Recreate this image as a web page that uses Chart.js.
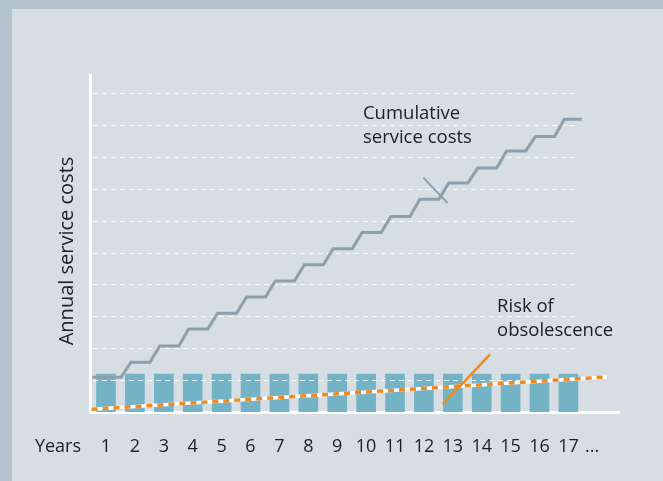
<!DOCTYPE html>
<html>
<head>
<meta charset="utf-8">
<title>Service costs</title>
<script src="https://cdn.jsdelivr.net/npm/chart.js@4.4.0/dist/chart.umd.min.js"></script>
<style>
    html, body { margin: 0; padding: 0; background: #b2c3cb; }
    #wrap { width: 663px; height: 481px; }
</style>
</head>
<body>
<div id="wrap"><canvas id="chart" width="663" height="481"></canvas></div>
<script>
// Values. y is in grid steps (one step = one dashed line).
const years = [1, 2, 3, 4, 5, 6, 7, 8, 9, 10, 11, 12, 13, 14, 15, 16, 17];
const yearTicks = [1, 2, 3, 4, 5, 6, 7, 8, 9, 10, 11, 12, 13, 14, 15, 16, 17, 17.82];
const yearLabels = ['1', '2', '3', '4', '5', '6', '7', '8', '9', '10', '11', '12', '13', '14', '15', '16', '17', '...'];
const annualCosts = [1.19, 1.19, 1.19, 1.19, 1.19, 1.19, 1.19, 1.19, 1.19, 1.19, 1.19, 1.19, 1.19, 1.19, 1.19, 1.19, 1.19];
const cumulativeCosts = [1.09, 1.56, 2.07, 2.6, 3.1, 3.61, 4.11, 4.62, 5.12, 5.63, 6.13, 6.67, 7.18, 7.65, 8.19, 8.64, 9.18];
const gridValues = [1, 2, 3, 4, 5, 6, 7, 8, 9, 10];
const obsolescenceTrend = [{x: 0.5, y: 0.085}, {x: 18.33, y: 1.1}];
const obsolescenceMarker = [{x: 12.65, y: 0.24}, {x: 14.29, y: 1.81}];
const cumulativeMarker = [{x: 11.98, y: 7.35}, {x: 12.82, y: 6.55}];

// Text notes, anchored in data units (left edge, first baseline)
const notes = [
    {lines: ['Cumulative', 'service costs'], x: 9.89, y: 9.19},
    {lines: ['Risk of', 'obsolescence'], x: 14.53, y: 3.15}
];

const FONT = '"Open Sans", "DejaVu Sans", sans-serif';
const INK = '#1e1e1e';
const ORANGE = '#f08a1e';
const STEEL = '#8c9fad';
const BAR_WIDTH = 19;

// Flat part of each year's step, then a slanted rise to the next year
function stepPoints(levels) {
    const pts = [];
    levels.forEach((v, i) => {
        const yr = years[i];
        pts.push({x: i === 0 ? yr - 0.48 : yr - 0.14, y: v});
        pts.push({x: i === levels.length - 1 ? yr + 0.46 : yr + 0.52, y: v});
    });
    return pts;
}

// Panel background with the darker frame on the left and top
const backdrop = {
    id: 'backdrop',
    beforeDraw(chart) {
        const ctx = chart.ctx;
        ctx.save();
        ctx.fillStyle = '#b2c3cb';
        ctx.fillRect(0, 0, chart.width, chart.height);
        ctx.fillStyle = '#d6dee4';
        ctx.fillRect(12, 9, chart.width - 12, chart.height - 9);
        ctx.restore();
    }
};

// Dashed guide lines, drawn over the bars but under the lines
const dashedGrid = {
    id: 'dashedGrid',
    afterDatasetDraw(chart, args) {
        if (args.meta.type !== 'bar') return;
        const ctx = chart.ctx;
        const xs = chart.scales.x;
        const ys = chart.scales.y;
        const left = chart.chartArea.left + 3;
        const right = xs.getPixelForValue(years[years.length - 1]) + BAR_WIDTH / 2;
        ctx.save();
        ctx.strokeStyle = 'rgba(255, 255, 255, 0.85)';
        ctx.lineWidth = 1;
        ctx.setLineDash([5, 4]);
        gridValues.forEach(v => {
            const py = Math.round(ys.getPixelForValue(v)) + 0.5;
            ctx.beginPath();
            ctx.moveTo(left, py);
            ctx.lineTo(right, py);
            ctx.stroke();
        });
        ctx.restore();
    }
};

// Notes, y axis title and the "Years" caption
const textLayer = {
    id: 'textLayer',
    afterDraw(chart) {
        const ctx = chart.ctx;
        const xs = chart.scales.x;
        const ys = chart.scales.y;
        ctx.save();
        ctx.fillStyle = INK;
        ctx.textAlign = 'left';
        ctx.textBaseline = 'alphabetic';
        ctx.font = '18.5px ' + FONT;
        notes.forEach(n => {
            const px = xs.getPixelForValue(n.x);
            const py = ys.getPixelForValue(n.y);
            n.lines.forEach((t, i) => ctx.fillText(t, px, py + i * 24));
        });

        ctx.font = '18px ' + FONT;
        ctx.textAlign = 'center';
        ctx.fillText('Years', 58, 452);

        ctx.translate(73, 251);
        ctx.rotate(-Math.PI / 2);
        ctx.font = '20px ' + FONT;
        ctx.fillText('Annual service costs', 0, 0);
        ctx.restore();
    }
};

const ctx = document.getElementById('chart').getContext('2d');
new Chart(ctx, {
    type: 'bar',
    data: {
        datasets: [
            {
                type: 'line',
                data: obsolescenceMarker,
                borderColor: ORANGE,
                borderWidth: 2.5,
                pointRadius: 0,
                order: 0
            },
            {
                type: 'line',
                data: cumulativeMarker,
                borderColor: STEEL,
                borderWidth: 2,
                pointRadius: 0,
                order: 0
            },
            {
                type: 'line',
                data: obsolescenceTrend,
                borderColor: ORANGE,
                borderWidth: 3.5,
                borderDash: [6, 5],
                pointRadius: 0,
                order: 1
            },
            {
                type: 'line',
                data: obsolescenceTrend,
                borderColor: '#ffffff',
                borderWidth: 3.5,
                pointRadius: 0,
                order: 2
            },
            {
                type: 'line',
                data: stepPoints(cumulativeCosts),
                borderColor: STEEL,
                borderWidth: 3,
                pointRadius: 0,
                tension: 0,
                order: 3
            },
            {
                type: 'bar',
                data: years.map((yr, i) => ({x: yr, y: annualCosts[i]})),
                backgroundColor: '#74b3c6',
                barThickness: BAR_WIDTH,
                order: 5
            }
        ]
    },
    options: {
        responsive: false,
        animation: false,
        layout: {
            padding: {left: 90, top: 75, right: 44, bottom: 0}
        },
        plugins: {
            legend: {display: false},
            tooltip: {enabled: false}
        },
        scales: {
            x: {
                type: 'linear',
                min: 0.446,
                max: 18.75,
                bounds: 'data',
                offset: false,
                afterBuildTicks: s => { s.ticks = yearTicks.map(v => ({value: v})); },
                afterFit: s => { s.height = 69; },
                grid: {display: false, drawTicks: false},
                border: {display: true, color: '#ffffff', width: 3},
                ticks: {
                    autoSkip: false,
                    maxRotation: 0,
                    padding: 24,
                    color: INK,
                    font: {family: FONT, size: 18},
                    callback: (value, index) => yearLabels[index]
                }
            },
            y: {
                min: 0,
                max: 10.57,
                afterFit: s => { s.width = 0; },
                grid: {display: false},
                border: {display: true, color: '#ffffff', width: 3},
                ticks: {display: false}
            }
        }
    },
    plugins: [backdrop, dashedGrid, textLayer]
});
</script>
</body>
</html>
